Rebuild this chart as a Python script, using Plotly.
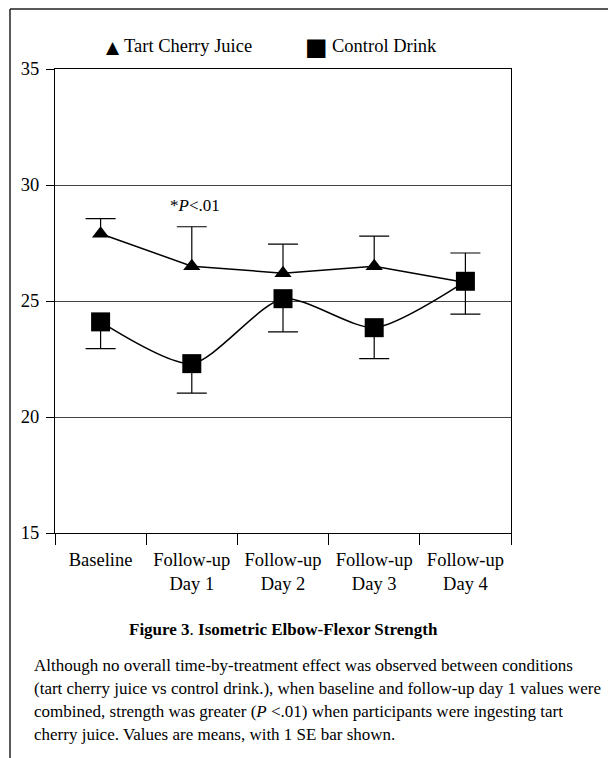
import plotly.graph_objects as go

# ---- data ----
categories = ["Baseline", "Follow-up<br>Day 1", "Follow-up<br>Day 2", "Follow-up<br>Day 3", "Follow-up<br>Day 4"]
tart_means = [27.9, 26.5, 26.2, 26.5, 25.8]
tart_se = [0.65, 1.7, 1.25, 1.3, 1.27]
control_means = [24.1, 22.3, 25.1, 23.85, 25.85]
control_se = [1.15, 1.27, 1.43, 1.33, 1.42]
y_ticks = [15, 20, 25, 30, 35]

OFF = 8  # page body margin
W, H = 616 - OFF, 758 - OFF
L, R, T, B = 55 - OFF, 511 - OFF, 69 - OFF, 533 - OFF
FONT = "Liberation Serif"


def px(x):
    return (x - OFF - L) / (R - L)


def py(y):
    return (B - (y - OFF)) / (B - T)


tart_tops = [m + s for m, s in zip(tart_means, tart_se)]
control_bottoms = [m - s for m, s in zip(control_means, control_se)]
n = len(categories)

fig = go.Figure()

# error-bar stems (no caps)
fig.add_trace(go.Scatter(
    x=categories, y=control_means, mode="markers", marker=dict(size=1, opacity=0),
    error_y=dict(type="data", symmetric=False, array=[0] * n, arrayminus=control_se,
                 color="black", thickness=1.2, width=0),
    showlegend=False, hoverinfo="skip", cliponaxis=False,
))
fig.add_trace(go.Scatter(
    x=categories, y=tart_means, mode="markers", marker=dict(size=1, opacity=0),
    error_y=dict(type="data", symmetric=False, array=tart_se, arrayminus=[0] * n,
                 color="black", thickness=1.2, width=0),
    showlegend=False, hoverinfo="skip", cliponaxis=False,
))
# error-bar caps
fig.add_trace(go.Scatter(
    x=categories + categories, y=control_bottoms + tart_tops, mode="markers",
    marker=dict(size=1, opacity=0),
    error_y=dict(type="data", array=[0] * (2 * n), color="black", thickness=1.2, width=15),
    showlegend=False, hoverinfo="skip", cliponaxis=False,
))

fig.add_trace(go.Scatter(
    x=categories, y=control_means, mode="lines+markers",
    line=dict(color="black", width=1.5, shape="spline", smoothing=0.7),
    marker=dict(symbol="square", size=19, color="black"),
    showlegend=False, cliponaxis=False,
))
fig.add_trace(go.Scatter(
    x=categories, y=tart_means, mode="lines+markers",
    line=dict(color="black", width=1.5),
    marker=dict(symbol="triangle-up", size=15, color="black"),
    showlegend=False, cliponaxis=False,
))

annotations = []
# legend
annotations.append(dict(x=px(113), y=py(47), xref="paper", yref="paper", text="▲",
                        showarrow=False, font=dict(family="DejaVu Sans", size=17, color="black"),
                        xanchor="center", yanchor="middle"))
annotations.append(dict(x=px(122), y=py(46), xref="paper", yref="paper", text="Tart Cherry Juice",
                        showarrow=False, font=dict(family=FONT, size=18.5, color="black"),
                        xanchor="left", yanchor="middle"))
annotations.append(dict(x=px(316), y=py(47), xref="paper", yref="paper", text="■",
                        showarrow=False, font=dict(family="DejaVu Sans", size=24, color="black"),
                        xanchor="center", yanchor="middle"))
annotations.append(dict(x=px(330), y=py(46), xref="paper", yref="paper", text="Control Drink",
                        showarrow=False, font=dict(family=FONT, size=18.5, color="black"),
                        xanchor="left", yanchor="middle"))
# significance
annotations.append(dict(x=px(195), y=py(205), xref="paper", yref="paper",
                        text="*<i>P</i>&lt;.01", showarrow=False,
                        font=dict(family=FONT, size=17, color="black"),
                        xanchor="center", yanchor="middle"))
# figure title
annotations.append(dict(x=px(283), y=py(629), xref="paper", yref="paper",
                        text="<b>Figure 3</b>. <b>Isometric Elbow-Flexor Strength</b>", showarrow=False,
                        font=dict(family=FONT, size=17, color="black"),
                        xanchor="center", yanchor="middle"))
caption = [
    "Although no overall time-by-treatment effect was observed between conditions",
    "(tart cherry juice vs control drink.), when baseline and follow-up day 1 values were",
    "combined, strength was greater (<i>P</i> &lt;.01) when participants were ingesting tart",
    "cherry juice. Values are means, with 1 SE bar shown.",
]
for i, line in enumerate(caption):
    annotations.append(dict(x=px(32), y=py(665 + 23 * i), xref="paper", yref="paper",
                            text=line, showarrow=False,
                            font=dict(family=FONT, size=17, color="black"),
                            xanchor="left", yanchor="middle"))

shapes = [
    dict(type="line", xref="paper", yref="paper", x0=px(10), x1=px(700), y0=py(9), y1=py(9),
         line=dict(color="#222", width=1.5)),
    dict(type="line", xref="paper", yref="paper", x0=px(10), x1=px(10), y0=py(9), y1=py(800),
         line=dict(color="#222", width=1.5)),
]

fig.update_layout(
    width=W, height=H,
    margin=dict(l=L, r=W - R, t=T, b=H - B),
    paper_bgcolor="white", plot_bgcolor="white",
    font=dict(family=FONT, size=18, color="black"),
    annotations=annotations, shapes=shapes,
    showlegend=False,
)
fig.update_xaxes(
    type="category", range=[-0.5, n - 0.5],
    showline=True, linecolor="black", linewidth=1.2, mirror=True,
    ticks="outside", tickson="boundaries", ticklen=11, tickcolor="black", tickwidth=1,
    ticklabelstandoff=10,
    showgrid=False, tickfont=dict(family=FONT, size=18.5),
)
fig.update_yaxes(
    range=[15, 35], tickvals=y_ticks,
    showline=True, linecolor="black", linewidth=1.2, mirror=True,
    ticks="outside", ticklen=8, tickcolor="black", tickwidth=1, ticklabelstandoff=3,
    showgrid=True, gridcolor="#444", gridwidth=1.2, zeroline=False,
    tickfont=dict(family=FONT, size=18.5),
)

fig.write_html("out.html")
